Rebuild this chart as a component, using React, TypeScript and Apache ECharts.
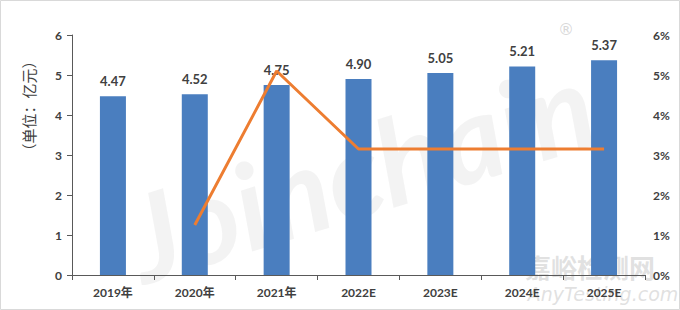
import React, { useEffect, useRef } from "react";
import * as echarts from "echarts";

const categories = ["2019年", "2020年", "2021年", "2022E", "2023E", "2024E", "2025E"];
const marketSize = [4.47, 4.52, 4.75, 4.9, 5.05, 5.21, 5.37];
const growthRate = [null, 1.25, 5.1, 3.15, 3.15, 3.15, 3.15];
const leftTicks = { min: 0, max: 6, interval: 1 };
const rightTicks = { min: 0, max: 6, interval: 1 };

const FONT = "Lato, 'Noto Sans CJK SC', sans-serif";

export default function App() {
  const ref = useRef<HTMLDivElement>(null);
  useEffect(() => {
    if (!ref.current) return;
    const chart = echarts.init(ref.current, null, { renderer: "svg" });
    chart.setOption({
      animation: false,
      backgroundColor: "#ffffff",
      grid: { left: 72, right: 35, top: 35, bottom: 35, containLabel: false },
      xAxis: {
        type: "category",
        data: categories,
        axisLine: { show: true, lineStyle: { color: "#595959", width: 1 } },
        axisTick: { show: true, alignWithLabel: false, length: 5, lineStyle: { color: "#595959" } },
        axisLabel: { color: "#404040", fontWeight: "bold", fontSize: 12, fontFamily: FONT, margin: 11 },
      },
      yAxis: [
        {
          type: "value",
          min: leftTicks.min,
          max: leftTicks.max,
          interval: leftTicks.interval,
          axisLine: { show: true, lineStyle: { color: "#595959", width: 1 } },
          axisTick: { show: true, length: 5, lineStyle: { color: "#595959" } },
          splitLine: { show: false },
          axisLabel: { color: "#404040", fontWeight: "bold", fontSize: 12, fontFamily: FONT, margin: 10 },
        },
        {
          type: "value",
          min: rightTicks.min,
          max: rightTicks.max,
          interval: rightTicks.interval,
          position: "right",
          axisLine: { show: false },
          axisTick: { show: false },
          splitLine: { show: false },
          axisLabel: {
            color: "#404040",
            fontWeight: "bold",
            fontSize: 12,
            fontFamily: FONT,
            margin: 8,
            formatter: "{value}%",
          },
        },
      ],
      graphic: [
        {
          type: "text",
          z: -10,
          x: 360,
          y: 170,
          rotation: 0.3,
          style: {
            text: "Joinchain",
            font: "italic bold 120px Lato, sans-serif",
            fill: "rgba(170,170,170,0.14)",
            textAlign: "center",
            textVerticalAlign: "middle",
          },
        },
        {
          type: "text",
          x: 590,
          y: 266,
          style: {
            text: "嘉峪检测网",
            font: "bold 26px 'Noto Sans CJK SC', sans-serif",
            fill: "rgba(200,200,200,0.55)",
            textAlign: "center",
            textVerticalAlign: "middle",
          },
        },
        {
          type: "text",
          x: 603,
          y: 294,
          style: {
            text: "AnyTesting.com",
            font: "italic 19px 'DejaVu Sans', sans-serif",
            fill: "rgba(200,200,200,0.55)",
            textAlign: "center",
            textVerticalAlign: "middle",
          },
        },
        {
          type: "text",
          x: 566,
          y: 29,
          style: {
            text: "®",
            font: "16px 'DejaVu Sans', sans-serif",
            fill: "rgba(190,190,190,0.6)",
            textAlign: "center",
            textVerticalAlign: "middle",
          },
        },
        {
          type: "text",
          x: 28,
          y: 106,
          rotation: Math.PI / 2,
          style: {
            text: "（单位：亿元）",
            font: "15px 'Noto Sans CJK SC', sans-serif",
            fill: "#404040",
            textAlign: "center",
            textVerticalAlign: "middle",
          },
        },
        {
          type: "rect",
          shape: { x: 0.5, y: 0.5, width: 679, height: 309 },
          style: { fill: "none", stroke: "#d9d9d9", lineWidth: 1 },
          silent: true,
        },
      ],
      series: [
        {
          type: "bar",
          data: marketSize,
          barWidth: 26,
          itemStyle: { color: "#4a7ebf" },
          label: {
            show: true,
            position: "top",
            distance: 9,
            color: "#404040",
            fontWeight: "bold",
            fontSize: 13,
            fontFamily: FONT,
            formatter: (p: any) => p.value.toFixed(2),
          },
        },
        {
          type: "line",
          yAxisIndex: 1,
          data: growthRate,
          symbol: "none",
          lineStyle: { color: "#ed7d31", width: 3 },
          z: 5,
        },
      ],
    });
    return () => chart.dispose();
  }, []);
  return (
    <div
      ref={ref}
      style={{ position: "fixed", left: 0, top: 0, width: 680, height: 310 }}
    />
  );
}
